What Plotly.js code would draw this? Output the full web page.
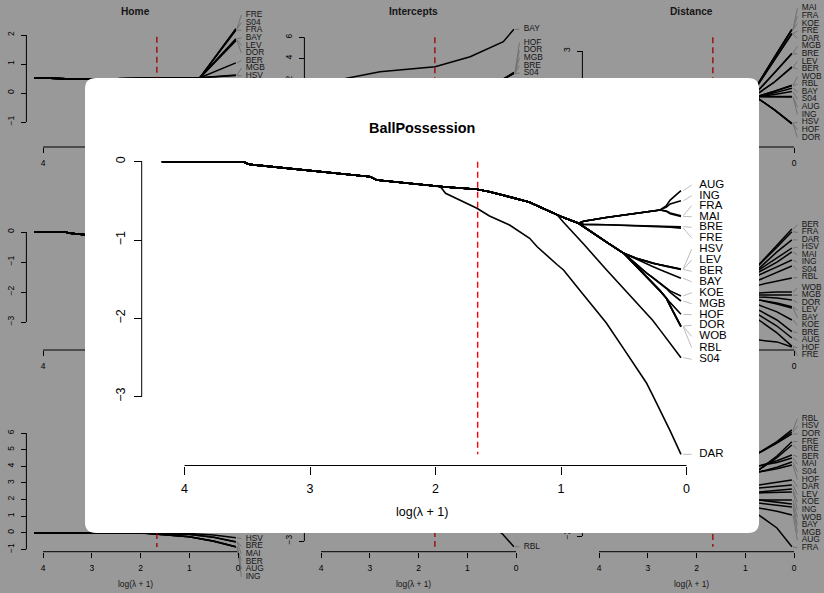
<!DOCTYPE html>
<html><head><meta charset="utf-8">
<script src="https://cdn.plot.ly/plotly-3.0.1.min.js"></script>
<style>html,body{margin:0;padding:0;background:#999999;}#chart{width:824px;height:593px;}</style>
</head><body><div id="chart"></div>
<script>
// ================= DATA =================
// Main panel: BallPossession coefficient paths vs log(lambda+1)
const teams = ['AUG','ING','FRA','MAI','BRE','FRE','HSV','LEV','BER','BAY','KOE','MGB','HOF','DOR','WOB','RBL','S04','DAR'];
const logLambda = [4.18, 3.53, 3.49, 2.52, 2.47, 1.96, 1.92, 1.67, 1.57, 1.41, 1.25, 1.19, 1.03, 0.98, 0.86, 0.82, 0.64, 0.50, 0.40, 0.32, 0.27, 0.21, 0.16, 0.13, 0.044];
const pathAll   = [0, 0, -0.033, -0.192, -0.234, -0.319];
const pathNoDAR = pathAll.concat([-0.324, -0.352, -0.383, -0.449, -0.518, -0.562, -0.681]);
const pathFan   = pathNoDAR.concat([-0.714, -0.787]);
const pathMid   = pathFan.concat([-0.832, -1.024, -1.170]);
const AUG = pathFan.concat([-0.760, -0.712, -0.680, -0.659, -0.641, -0.630, -0.617, -0.560, -0.490, -0.370]);
const ING = pathFan.concat([-0.760, -0.712, -0.680, -0.659, -0.641, -0.630, -0.617, -0.580, -0.540, -0.500]);
const FRA = pathFan.concat([-0.760, -0.712, -0.680, -0.659, -0.641, -0.630, -0.617, -0.630, -0.655, -0.690]);
const MAI = pathFan.concat([-0.760, -0.712, -0.680, -0.659, -0.641, -0.630, -0.617, -0.635, -0.665, -0.700]);
const BRE = pathFan.concat([-0.800, -0.806, -0.812, -0.818, -0.822, -0.825, -0.828, -0.829, -0.830, -0.830]);
const FRE = pathFan.concat([-0.800, -0.806, -0.812, -0.818, -0.822, -0.825, -0.828, -0.829, -0.835, -0.848]);
const HSV = pathMid.concat([-1.232, -1.270, -1.296, -1.317, -1.335, -1.345, -1.370]);
const LEV = pathMid.concat([-1.232, -1.270, -1.296, -1.317, -1.335, -1.346, -1.373]);
const BER = pathMid.concat([-1.232, -1.270, -1.296, -1.318, -1.337, -1.348, -1.377]);
const BAY = pathMid.concat([-1.248, -1.300, -1.339, -1.379, -1.412, -1.432, -1.489]);
const KOE = pathMid.concat([-1.310, -1.420, -1.479, -1.553, -1.617, -1.650, -1.715]);
const MGB = pathMid.concat([-1.310, -1.420, -1.479, -1.553, -1.620, -1.670, -1.779]);
const HOF = pathMid.concat([-1.336, -1.460, -1.544, -1.650, -1.741, -1.800, -1.949]);
const DOR = pathMid.concat([-1.336, -1.460, -1.544, -1.650, -1.745, -1.840, -2.100]);
const WOB = pathMid.concat([-1.336, -1.460, -1.544, -1.650, -1.745, -1.845, -2.105]);
const RBL = pathMid.concat([-1.336, -1.460, -1.544, -1.650, -1.745, -1.845, -2.110]);
const S04 = pathNoDAR.concat([-0.774, -0.980, -1.052, -1.376, -1.618, -1.790, -1.930, -2.024, -2.151, -2.257, -2.320, -2.503]);
const DAR = pathAll.concat([-0.404, -0.595, -0.693, -0.808, -0.978, -1.086, -1.316, -1.383, -1.623, -1.702, -2.056, -2.391, -2.631, -2.823, -2.981, -3.174, -3.335, -3.438, -3.737]);
const bpCoef = [AUG, ING, FRA, MAI, BRE, FRE, HSV, LEV, BER, BAY, KOE, MGB, HOF, DOR, WOB, RBL, S04, DAR];
const bpLabelY = [-0.298, -0.434, -0.562, -0.702, -0.838, -0.974, -1.115, -1.255, -1.400, -1.533, -1.673, -1.814, -1.954, -2.089, -2.230, -2.375, -2.524, -3.737];
const cvLogLambda = 1.664;
const bpDash = [0, -3.737];
const xTicks = [0, 1, 2, 3, 4];

// Background panel: Home
const homeX = [4.18, 3.53, 2.50, 1.66, 1.20, 0.78, 0.044];
const homeTrunk = [0.53, 0.49, 0.49, 0.50, 0.51, 0.53];
const homeTeams = ['FRE','S04','FRA','BAY','LEV','DOR','BER','MGB','HSV'];
const homeEnd = [2.22, 2.20, 2.16, 1.87, 1.84, 1.80, 1.04, 0.62, 0.60];
const homeLabelY = [2.69, 2.43, 2.17, 1.90, 1.64, 1.38, 1.12, 0.86, 0.59];
const homeDash = [1.94, -1.2];

// Background panel: Intercepts
const bayX = [4.18, 3.47, 2.79, 1.66, 0.94, 0.60, 0.26, 0.044];
const bayY = [1.30, 2.10, 2.72, 3.20, 4.15, 4.88, 5.58, 6.76];
const interX = [4.18, 1.66, 0.50, 0.25, 0.044];
const interPath = [0.8, 1.2, 1.7, 2.05];
const interTeams = ['BAY','HOF','DOR','MGB','BRE','S04'];
const interEnd = [6.76, 2.65, 2.62, 2.60, 2.57, 2.54];
const interLabelY = [6.76, 5.49, 4.76, 4.04, 3.31, 2.59];
const interDash = [6.0, -3.7];

// Background panel: Distance
const distX = [4.18, 2.50, 1.66, 0.90, 0.72, 0.40, 0.044];
const distTrunk = [1.00, 1.30, 1.45, 1.53];
const distTeams = ['MAI','FRA','KOE','FRE','DAR','MGB','BRE','LEV','BER','WOB','RBL','BAY','S04','AUG','ING','HSV','HOF','DOR'];
const distAt072 = [2.00, 2.00, 2.00, 1.95, 1.95, 1.75, 1.75, 1.65, 1.65, 1.55, 1.55, 1.53, 1.53, 1.53, 1.53, 1.45, 1.45, 1.45];
const distAt040 = [2.80, 2.80, 2.80, 2.70, 2.70, 2.30, 2.30, 2.00, 2.00, 1.70, 1.70, 1.65, 1.60, 1.53, 1.53, 1.10, 1.10, 1.10];
const distEnd = [3.70, 3.70, 3.68, 3.57, 3.55, 2.93, 2.91, 2.49, 2.47, 1.90, 1.88, 1.80, 1.69, 1.53, 1.52, 0.67, 0.66, 0.65];
const distLabelY = [4.38, 4.13, 3.89, 3.64, 3.40, 3.15, 2.91, 2.66, 2.42, 2.17, 1.93, 1.68, 1.44, 1.19, 0.95, 0.70, 0.45, 0.21];
const distDash = [3.44, 0.65];

// Background panel: row 2, column 3
const eX = [1.20, 0.72, 0.35, 0.044];
const eTeams = ['BER','FRA','DAR','HSV','MAI','ING','S04','RBL','WOB','MGB','DOR','LEV','BAY','KOE','BRE','AUG','HOF','FRE'];
const eAt072 = [0.83, 0.83, 0.73, 0.67, 0.60, 0.50, 0.33, 0.17, -0.10, -0.17, -0.23, -0.33, -0.33, -0.50, -0.67, -0.83, -1.00, -1.67];
const eAt035 = [1.50, 1.43, 1.27, 1.07, 0.93, 0.77, 0.60, 0.30, -0.07, -0.17, -0.27, -0.43, -0.47, -0.73, -1.00, -1.20, -1.43, -1.73];
const eEnd = [2.03, 1.94, 1.67, 1.40, 1.27, 1.00, 0.80, 0.40, -0.07, -0.17, -0.33, -0.56, -0.60, -1.00, -1.39, -1.60, -1.87, -1.90];
const eLabelY = [2.17, 1.92, 1.67, 1.42, 1.17, 0.92, 0.67, 0.42, 0.07, -0.18, -0.43, -0.68, -0.93, -1.18, -1.43, -1.68, -1.93, -2.18];
const eDash = [2.03, -1.90];

// Background panel: row 3, column 1
const fX = [4.18, 1.90, 1.00, 0.50, 0.044];
const fTeams = ['HSV','BRE','MAI','BER','AUG','ING'];
const fHSV = [0, -0.01, -0.05, -0.14, -0.30];
const fBRE = [0, -0.02, -0.10, -0.27, -0.54];
const fMAI = [0, -0.02, -0.11, -0.28, -0.56];
const fBER = [0, -0.03, -0.24, -0.50, -0.84];
const fAUG = [0, -0.03, -0.24, -0.51, -0.85];
const fING = [0, -0.03, -0.25, -0.52, -0.86];
const fLabelY = [-0.36, -0.82, -1.28, -1.73, -2.19, -2.65];
const fDash = [6.0, -0.86];

// Background panel: row 3, column 2
const gX = [1.66, 0.80, 0.29, 0.044];
const gRBL = [-1.50, -2.00, -2.65, -3.26];
const gLabelY = [-3.26];
const gDash = [2.0, -3.26];

// Background panel: row 3, column 3
const hX = [4.18, 1.66, 0.72, 0.35, 0.044];
const hTeams = ['RBL','HSV','DOR','FRE','BRE','BER','MAI','S04','HOF','DAR','LEV','KOE','ING','WOB','BAY','MGB','AUG','FRA'];
const hAt072 = [3.19, 3.19, 3.19, 2.13, 2.13, 2.38, 2.38, 2.00, 2.00, 1.19, 1.00, 0.75, 0.69, 0.25, 0.25, 0.06, -0.25, -0.69];
const hAt035 = [3.90, 3.85, 3.80, 3.00, 2.90, 2.70, 2.60, 2.30, 2.20, 1.35, 1.10, 0.85, 0.72, 0.25, 0.12, -0.06, -0.45, -1.50];
const hEnd = [4.63, 4.50, 4.38, 3.89, 3.69, 3.06, 2.88, 2.63, 2.44, 1.50, 1.19, 0.94, 0.75, 0.25, 0.00, -0.19, -0.69, -2.67];
const hLabelY = [5.33, 4.86, 4.38, 3.91, 3.43, 2.96, 2.48, 2.01, 1.53, 1.06, 0.58, 0.11, -0.37, -0.84, -1.32, -1.79, -2.27, -2.74];
const hDash = [5.0, -2.67];

// ================= LAYOUT HELPERS =================
const W = 824, H = 593;
const FONT = '"Liberation Sans", Arial, Helvetica, sans-serif';
const traces = [];
const layout = {
  width: W, height: H, margin: {l: 0, r: 0, t: 0, b: 0},
  paper_bgcolor: '#999999', plot_bgcolor: 'rgba(0,0,0,0)',
  showlegend: false, font: {family: FONT, color: '#000'},
  shapes: [], annotations: []
};

function makePanel(n, g) {
  const sfx = n === 1 ? '' : String(n);
  const xv = px => (g.x0px - px) / g.xs;
  const yv = py => (g.y0px - py) / g.ys;
  layout['xaxis' + sfx] = {
    domain: [g.dom[0] / W, g.dom[1] / W], range: [xv(g.dom[0]), xv(g.dom[1])],
    anchor: 'free', position: 1 - g.xAxisPx / H,
    tickmode: 'array', tickvals: xTicks, ticks: 'outside', ticklen: g.tl, tickwidth: 1, tickcolor: '#000',
    showline: false, showgrid: false, zeroline: false,
    tickfont: {family: FONT, size: g.fs, color: '#000'}, ticklabelstandoff: g.xso
  };
  layout['yaxis' + sfx] = {
    domain: [1 - g.dom[3] / H, 1 - g.dom[2] / H], range: [yv(g.dom[3]), yv(g.dom[2])],
    anchor: 'free', position: g.yAxisPx / W,
    tickmode: 'array', tickvals: g.yticks, ticks: 'outside', ticklen: g.tl, tickwidth: 1, tickcolor: '#000',
    showline: false, showgrid: false, zeroline: false, tickangle: -90,
    tickfont: {family: FONT, size: g.fs, color: '#000'}, ticklabelstandoff: g.yso
  };
  const p = {x: 'x' + sfx, y: 'y' + sfx, xv, yv, g};
  // R-style axis lines (only between the extreme ticks)
  const ya = yv(g.xAxisPx), xa = xv(g.yAxisPx);
  traces.push(line(p, [Math.max(...xTicks), Math.min(...xTicks)], [ya, ya], '#000', 1));
  traces.push(line(p, [xa, xa], [Math.min(...g.yticks), Math.max(...g.yticks)], '#000', 1));
  return p;
}
function line(p, x, y, color, width, dash) {
  return {type: 'scatter', mode: 'lines', x: x, y: y, xaxis: p.x, yaxis: p.y,
    line: {color: color, width: width, dash: dash || 'solid'}, hoverinfo: 'skip', showlegend: false};
}
function connectors(p, ends, labs, cx0, cx1, color) {
  const x = [], y = [];
  ends.forEach((e, i) => { x.push(cx0, cx1, null); y.push(e, labs[i], null); });
  return line(p, x, y, color, 1);
}
function labels(p, names, labs, lx, size, color) {
  return {type: 'scatter', mode: 'text', x: names.map(() => lx), y: labs, text: names,
    textposition: 'middle right', textfont: {family: FONT, size: size, color: color || '#000'},
    cliponaxis: false, xaxis: p.x, yaxis: p.y, hoverinfo: 'skip', showlegend: false};
}
function dashV(p, x, ys, color, width) {
  return line(p, [x, x], ys, color, width, '6px,4px');
}
function annot(text, px, py, size, color) {
  layout.annotations.push({text: text, x: px / W, y: 1 - py / H, xref: 'paper', yref: 'paper',
    showarrow: false, xanchor: 'center', yanchor: 'middle', font: {family: FONT, size: size, color: color || '#000'}});
}

const BG_GRAY = '#727272', BG_RED = '#990000', BG_TXT = '#151515', LW = 1.5;
const bgGeom = (x0px, y0px, ys, yAxisPx, xAxisPx, dom, yticks) =>
  ({x0px, xs: 48.75, y0px, ys, yAxisPx, xAxisPx, dom, yticks, tl: 5, fs: 8.5, xso: 3, yso: 4});
const BGC0 = 0.02, BGC1 = -0.07, BGLX = -0.158, BGFS = 8.4;

// ---------- Panel 1: Home ----------
const pA = makePanel(1, bgGeom(238, 93, 29, 26.4, 147, [24, 262, 5, 152], [-1, 0, 1, 2]));
homeTeams.forEach((t, i) => traces.push(line(pA, homeX, homeTrunk.concat([homeEnd[i]]), '#000', LW)));
traces.push(connectors(pA, homeEnd, homeLabelY, BGC0, BGC1, BG_GRAY));
traces.push(labels(pA, homeTeams, homeLabelY, BGLX, BGFS, BG_TXT));
traces.push(dashV(pA, cvLogLambda, homeDash, BG_RED, 1.3));

// ---------- Panel 2: Intercepts ----------
const pB = makePanel(2, bgGeom(516, 100.3, 10.5, 304.4, 147, [302, 540, 5, 152], [-2, 0, 2, 4, 6]));
traces.push(line(pB, bayX, bayY, '#000', LW));
interTeams.slice(1).forEach((t, i) => traces.push(line(pB, interX, interPath.concat([interEnd[i + 1]]), '#000', LW)));
traces.push(connectors(pB, interEnd, interLabelY, BGC0, BGC1, BG_GRAY));
traces.push(labels(pB, interTeams, interLabelY, BGLX, BGFS, BG_TXT));
traces.push(dashV(pB, cvLogLambda, interDash, BG_RED, 1.3));

// ---------- Panel 3: Distance ----------
const pC = makePanel(3, bgGeom(794, 144, 31, 582.4, 147, [580, 818, 5, 152], [1, 2, 3]));
distTeams.forEach((t, i) => traces.push(line(pC, distX, distTrunk.concat([distAt072[i], distAt040[i], distEnd[i]]), '#000', LW)));
traces.push(connectors(pC, distEnd, distLabelY, BGC0, BGC1, BG_GRAY));
traces.push(labels(pC, distTeams, distLabelY, BGLX, BGFS, BG_TXT));
traces.push(dashV(pC, cvLogLambda, distDash, BG_RED, 1.3));

// ---------- Panel 4: BallPossession (small) ----------
const pD = makePanel(4, bgGeom(238, 232, 30, 26.4, 350, [24, 262, 205, 357], [-3, -2, -1, 0]));
bpCoef.forEach(c => traces.push(line(pD, logLambda, c, '#000', LW)));
traces.push(connectors(pD, bpCoef.map(c => c[c.length - 1]), bpLabelY, BGC0, BGC1, BG_GRAY));
traces.push(dashV(pD, cvLogLambda, bpDash, BG_RED, 1.3));

// ---------- Panel 5: row 2 col 3 ----------
const pE = makePanel(5, bgGeom(794, 290, 30, 582.4, 350, [580, 818, 205, 357], [-2, -1, 0, 1, 2]));
eTeams.forEach((t, i) => traces.push(line(pE, eX, [0, eAt072[i], eAt035[i], eEnd[i]], '#000', LW)));
traces.push(connectors(pE, eEnd, eLabelY, BGC0, BGC1, BG_GRAY));
traces.push(labels(pE, eTeams, eLabelY, BGLX, BGFS, BG_TXT));
traces.push(dashV(pE, cvLogLambda, eDash, BG_RED, 1.3));

// ---------- Panel 6: row 3 col 1 ----------
const pF = makePanel(6, bgGeom(238, 532.7, 16.6, 26.4, 551.7, [24, 262, 410, 592], [-1, 0, 1, 2, 3, 4, 5, 6]));
const fPaths = [fHSV, fBRE, fMAI, fBER, fAUG, fING];
fPaths.forEach(c => traces.push(line(pF, fX, c, '#000', LW)));
traces.push(connectors(pF, fPaths.map(c => c[c.length - 1]), fLabelY, BGC0, BGC1, BG_GRAY));
traces.push(labels(pF, fTeams, fLabelY, BGLX, BGFS, BG_TXT));
traces.push(dashV(pF, cvLogLambda, fDash, BG_RED, 1.3));

// ---------- Panel 7: row 3 col 2 ----------
const pG = makePanel(7, bgGeom(516, 475, 22, 304.4, 551.7, [302, 540, 410, 592], [-3, -2, -1, 0, 1, 2]));
traces.push(line(pG, gX, gRBL, '#000', LW));
traces.push(connectors(pG, [gRBL[gRBL.length - 1]], gLabelY, BGC0, BGC1, BG_GRAY));
traces.push(labels(pG, ['RBL'], gLabelY, BGLX, BGFS, BG_TXT));
traces.push(dashV(pG, cvLogLambda, gDash, BG_RED, 1.3));

// ---------- Panel 8: row 3 col 3 ----------
const pH = makePanel(8, bgGeom(794, 504, 16, 582.4, 551.7, [580, 818, 410, 592], [-2, -1, 0, 1, 2, 3, 4, 5]));
hTeams.forEach((t, i) => traces.push(line(pH, hX, [0, 1.0, hAt072[i], hAt035[i], hEnd[i]], '#000', LW)));
traces.push(connectors(pH, hEnd, hLabelY, BGC0, BGC1, BG_GRAY));
traces.push(labels(pH, hTeams, hLabelY, BGLX, BGFS, BG_TXT));
traces.push(dashV(pH, cvLogLambda, hDash, BG_RED, 1.3));

// Background titles / axis titles (only those not hidden by the overlay)
annot('<b>Home</b>', 135.5, 11, 10.2, BG_TXT);
annot('<b>Intercepts</b>', 413.5, 11, 10.2, BG_TXT);
annot('<b>Distance</b>', 691.2, 11, 10.2, BG_TXT);
[135.5, 413.5, 691.5].forEach(cx => annot('log(λ + 1)', cx, 584, 8.4, BG_TXT));

// ---------- Panel 9: main enlarged BallPossession ----------
const pM = makePanel(9, {x0px: 686.5, xs: 125.5, y0px: 161.7, ys: 78.3, yAxisPx: 141.7, xAxisPx: 465.5,
  dom: [85, 759, 78, 533], yticks: [-3, -2, -1, 0], tl: 8, fs: 12.5, xso: 3, yso: 4});
// white rounded panel behind the main plot (in main subplot coordinates)
(function () {
  const l = 85, r = 759, t = 78, b = 533, rad = 11;
  const P = (px, py) => pM.xv(px) + ',' + pM.yv(py);
  const path = 'M' + P(l + rad, t) + ' L' + P(r - rad, t) + ' Q' + P(r, t) + ' ' + P(r, t + rad) +
    ' L' + P(r, b - rad) + ' Q' + P(r, b) + ' ' + P(r - rad, b) + ' L' + P(l + rad, b) +
    ' Q' + P(l, b) + ' ' + P(l, b - rad) + ' L' + P(l, t + rad) + ' Q' + P(l, t) + ' ' + P(l + rad, t) + ' Z';
  layout.shapes.push({type: 'path', path: path, xref: pM.x, yref: pM.y, layer: 'below',
    fillcolor: '#ffffff', line: {width: 0}});
})();
bpCoef.forEach(c => traces.push(line(pM, logLambda, c, '#000', 1.6)));
traces.push(connectors(pM, bpCoef.map(c => c[c.length - 1]), bpLabelY, 0.0255, -0.041, '#bebebe'));
traces.push(labels(pM, teams, bpLabelY, -0.102, 11.5));
traces.push(dashV(pM, cvLogLambda, bpDash, '#ff0000', 1.4));
annot('<b>BallPossession</b>', 421.7, 128.3, 14.4);
annot('log(λ + 1)', 421.7, 512, 12.5);

Plotly.newPlot('chart', traces, layout, {staticPlot: true, displayModeBar: false});
</script></body></html>
